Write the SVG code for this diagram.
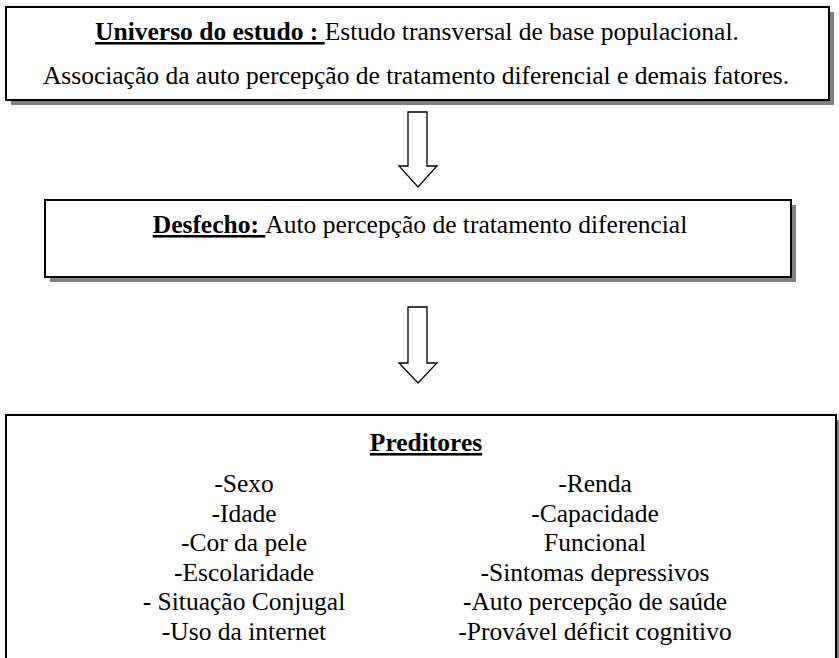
<svg xmlns="http://www.w3.org/2000/svg" width="839" height="658" viewBox="0 0 839 658">
<style>
  text { font-family: "Liberation Serif", "Times New Roman", serif; font-size: 25.5px; fill: #000; }
  .b { font-weight: bold; text-decoration: underline; }
  .box { fill: #fff; stroke: #000; stroke-width: 2; }
  .shadow { fill: #808080; }
  .arrow { fill: #fff; stroke: #000; stroke-width: 1.3; }
</style>
<rect width="839" height="658" fill="#fff"/>
<g id="universo">
  <rect class="shadow" x="11" y="12" width="823" height="93"/>
  <rect class="box" x="6" y="7" width="823" height="93"/>
  <text x="417" y="40" text-anchor="middle" xml:space="preserve"><tspan class="b">Universo do estudo : </tspan>Estudo transversal de base populacional.</text>
  <text x="416" y="84" text-anchor="middle">Associação da auto percepção de tratamento diferencial e demais fatores.</text>
</g>
<g id="connectors">
  <polygon class="arrow" points="408,112 427,112 427,166 437,166 418,187 399,166 408,166"/>
  <polygon class="arrow" points="408,307 427,307 427,363 437,363 418,383 399,363 408,363"/>
</g>
<g id="desfecho">
  <rect class="shadow" x="50" y="205" width="746" height="77"/>
  <rect class="box" x="45" y="200" width="746" height="77"/>
  <text x="420" y="233" text-anchor="middle" xml:space="preserve"><tspan class="b">Desfecho: </tspan>Auto percepção de tratamento diferencial</text>
</g>
<g id="preditores">
  <rect class="shadow" x="11" y="420" width="830" height="260"/>
  <rect class="box" x="6" y="415" width="830" height="260"/>
  <text x="426" y="451" text-anchor="middle" class="b">Preditores</text>
  <g text-anchor="middle">
    <text x="244" y="492">-Sexo</text>
    <text x="244" y="521.6">-Idade</text>
    <text x="244" y="551.2">-Cor da pele</text>
    <text x="244" y="580.8">-Escolaridade</text>
    <text x="244" y="610.4">- Situação Conjugal</text>
    <text x="244" y="640">-Uso da internet</text>
    <text x="595" y="492">-Renda</text>
    <text x="595" y="521.6">-Capacidade</text>
    <text x="595" y="551.2">Funcional</text>
    <text x="595" y="580.8">-Sintomas depressivos</text>
    <text x="595" y="610.4">-Auto percepção de saúde</text>
    <text x="595" y="640">-Provável déficit cognitivo</text>
  </g>
</g>
</svg>
